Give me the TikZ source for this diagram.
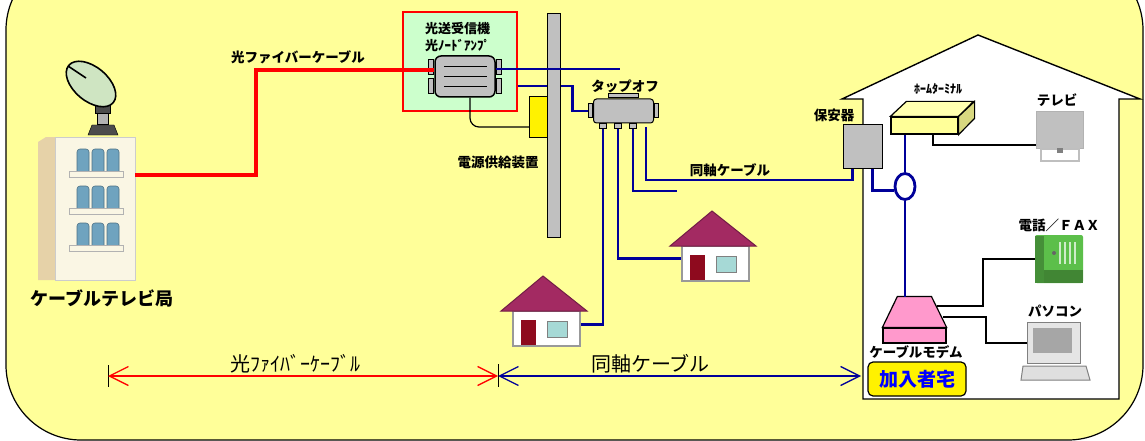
\documentclass[tikz,border=0pt]{standalone}
\usepackage{fontspec}
\setmainfont{Noto Sans CJK JP}
\usepackage{tikz}
\usetikzlibrary{arrows.meta,positioning,shapes.geometric}
\definecolor{catvbg}{HTML}{FFFF99}
\definecolor{navy}{HTML}{000099}
\definecolor{fiber}{HTML}{FF0000}
\definecolor{onugreen}{HTML}{CCFFCC}
\definecolor{devgray}{HTML}{C0C0C0}
\definecolor{roof}{HTML}{A32A62}
\definecolor{door}{HTML}{8E0A1E}
\definecolor{pane}{HTML}{A6D9D6}
\definecolor{modempink}{HTML}{FF99CC}
\definecolor{wallcream}{HTML}{FAF6E4}
\definecolor{wallside}{HTML}{E6D2A8}
\definecolor{glass}{HTML}{6FA3BF}
\definecolor{dishgreen}{HTML}{CFE5C2}
\definecolor{phonegreen}{HTML}{5CBF4A}
\definecolor{termtop}{HTML}{FFFFB0}
\definecolor{termside}{HTML}{D8D880}

\begin{document}
\begin{tikzpicture}[x=1pt,y=-1pt,
  lab/.style={font=\fontsize{13.5}{14}\selectfont\bfseries,inner sep=0pt},
  dimlab/.style={font=\fontsize{20}{20}\selectfont,inner sep=2pt,text=black},
  dev/.style={draw,fill=devgray,line width=1pt,inner sep=0pt},
  fiberline/.style={fiber,line width=4.5pt},
  coaxline/.style={navy,line width=2.8pt},
  wire/.style={black,line width=1.2pt},
  dimred/.style={{Straight Barb[length=19pt,width=19pt]}-{Straight Barb[length=19pt,width=19pt]},red,line width=1.3pt},
  dimblue/.style={{Straight Barb[length=19pt,width=19pt]}-{Straight Barb[length=19pt,width=19pt]},navy,line width=1.3pt}]
\useasboundingbox (0,0) rectangle (1145,441);
\clip (0,0) rectangle (1145,441);
\filldraw[fill=catvbg,line width=1.2pt,rounded corners=75pt] (6,-45) rectangle (1143,440);

% cable TV station
\fill[wallside] (38,280) -- (38,142) -- (46,137) -- (55,137) -- (55,280) -- cycle;
\node[fill=wallcream,draw=gray!40,minimum width=80,minimum height=143,inner sep=0pt,anchor=north west] (stn) at (55,137) {};
\foreach \wy in {149,186,223}{
  \foreach \wx in {77,92,107}
    \filldraw[fill=glass,draw=glass!70!black,line width=0.6pt,rounded corners=3pt] (\wx,\wy+22) -- (\wx,\wy) -- (\wx+12,\wy) -- (\wx+12,\wy+22);
  \filldraw[fill=wallcream,draw=gray!60,line width=0.8pt] (69,\wy+22) rectangle (123,\wy+28);
}
\filldraw[fill=black!70] (88,135) -- (92,125) -- (114,125) -- (118,135) -- cycle;
\filldraw[fill=gray!60,draw=black,line width=1pt] (97,113) rectangle (108,125);
\filldraw[fill=black!70] (95,104) rectangle (110,113);
\filldraw[fill=dishgreen,draw=black,line width=1.6pt,rotate around={-40:(91,84)}] (91,84) ellipse (29 and 17);
\draw[line width=1.6pt] (68,66) -- (86,78);
\node[font=\fontsize{18}{18}\selectfont\bfseries,inner sep=0pt] (stnlab) at (102,298) {ケーブルテレビ局};

% optical node
\node[draw=red,line width=1.2pt,fill=onugreen,minimum width=114,minimum height=99,inner sep=0pt] (onu) at (460,61.5) {};
\node[lab,align=left,anchor=west,font=\fontsize{13}{17}\selectfont\bfseries] (onulab) at (425,37) {光送受信機\\光ﾉｰﾄﾞｱﾝﾌﾟ};
\node[dev,line width=1.5pt,rounded corners=6pt,minimum width=60,minimum height=41] (amp) at (465,76.5) {};
\node[dev,minimum width=5,minimum height=15,anchor=north east] (ampl1) at ([yshift=-4pt]amp.north west) {};
\node[dev,minimum width=5,minimum height=15,anchor=south east] (ampl2) at ([yshift=4pt]amp.south west) {};
\node[dev,minimum width=5,minimum height=15,anchor=north west] (ampr1) at ([yshift=-4pt]amp.north east) {};
\node[dev,minimum width=5,minimum height=15,anchor=south west] (ampr2) at ([yshift=4pt]amp.south east) {};
\foreach \dy in {-10,0,10}
  \draw[line width=1.2pt] (amp.center) ++(-21,\dy) -- ++(43,0);

\coordinate (fbend) at (256,70);
\draw[fiberline] ([yshift=33.5pt]stn.east) -| (fbend) -- (fbend -| amp.west);
\node[lab] (fiblab) at (298,57) {光ファイバーケーブル};

% pole, power supply, tap-off
\node[dev,minimum width=60,minimum height=24,rounded corners=3pt] (tap) at (623.5,111) {};
\draw[coaxline] ([yshift=-24.5pt]onu.east) -- ++(55,0) |- (tap.west);
\node[dev,minimum width=13,minimum height=224,anchor=north west] (pole) at (547,13) {};
\node[draw,line width=1pt,fill=yellow,minimum width=18,minimum height=41,inner sep=0pt,anchor=north west] (psu) at (529,96) {};
\draw[wire,rounded corners=9pt] ([xshift=5pt]amp.south) |- ([yshift=-10pt]psu.west);
\node[lab] (psulab) at (498,162) {電源供給装置};
\coordinate (ampout) at (620,69);
\draw[coaxline] (amp.east |- ampout) -- (ampout);

\node[dev,minimum width=4,minimum height=14,anchor=east] (tapl) at (tap.west) {};
\node[dev,minimum width=4,minimum height=14,anchor=west] (tapr) at (tap.east) {};
\node[dev,minimum width=30,minimum height=4,anchor=south] (taptop) at (tap.north) {};
\node[lab] (taplab) at (625,86) {タップオフ};

% small houses
\foreach \hn/\px/\py in {hsa/543/276,hsb/712/211}{
  \begin{scope}[shift={(\px,\py)}]
    \node[draw=gray!80,line width=1.5pt,fill=white,minimum width=67,minimum height=35,inner sep=0pt,anchor=north west] (\hn) at (-31,34) {};
    \filldraw[fill=roof,draw=roof!70!black,line width=1pt] (-42,35) -- (0,0) -- (44,35) -- cycle;
    \fill[door] (-22,44) rectangle (-7,69);
    \filldraw[fill=pane,draw=gray,line width=1pt] (4,45) rectangle (24,61);
  \end{scope}
}

\foreach \i/\px in {1/603,2/618,3/633}
  \node[dev,minimum width=7,minimum height=5,anchor=north] (p\i) at (\px,123) {};
\coordinate (tapout) at (646,127);
\coordinate (end3) at (677,191);
\draw[coaxline] (p1.south) |- ([yshift=4pt]hsa.east);
\draw[coaxline] (p2.south) |- ([yshift=5pt]hsb.west);
\draw[coaxline] (p3.south) |- (end3);

% subscriber's home
\filldraw[fill=white,line width=1.4pt] (863,399) -- (863,99) -- (842,99) -- (978,35) -- (1140,99) -- (1119,99) -- (1119,399) -- cycle;
\node[dev,minimum width=39,minimum height=43] (prot) at (862.5,146.5) {};
\node[lab] (protlab) at (834,115) {保安器};
\draw[coaxline] (tapout) -- ++(0,53) -| ([xshift=10pt]prot.south west);
\node[lab] (coaxlab) at (730,170) {同軸ケーブル};

\node[draw,line width=1.2pt,fill=catvbg,minimum width=67,minimum height=17,inner sep=0pt] (hterm) at (924.5,125.5) {};
\filldraw[fill=termtop,line width=1.2pt] (hterm.north west) -- ++(16,-15) -- ++(67,0) -- (hterm.north east) -- cycle;
\filldraw[fill=termside,line width=1.2pt] (hterm.north east) -- ++(16,-15) -- ++(0,17) -- (hterm.south east) -- cycle;
\node[lab,font=\fontsize{12}{12}\selectfont\bfseries] (htermlab) at (938,89) {ﾎｰﾑﾀｰﾐﾅﾙ};

\node[ellipse,draw=navy,line width=2.8pt,fill=white,minimum width=20,minimum height=26,inner sep=0pt] (split) at (905,186.5) {};
\draw[coaxline] (split.north) -- (split.north |- hterm.south);
\draw[coaxline] ([xshift=10pt]prot.south) |- ([yshift=-4pt]split.west);

% cable modem
\node[draw,line width=1.2pt,fill=modempink,minimum width=63,minimum height=15,inner sep=0pt] (modem) at (914.5,335.5) {};
\filldraw[fill=modempink,line width=1.2pt] (modem.north west) -- ++(15,-31) -- ++(34,0) -- (modem.north east) -- cycle;
\coordinate (mtop) at (905,297);
\draw[coaxline] (split.south) -- (mtop);
\node[lab] (modemlab) at (916,352) {ケーブルモデム};
\node[draw,line width=1.2pt,fill=yellow,rounded corners=5pt,minimum width=98,minimum height=34,inner sep=0pt,text=blue,font=\fontsize{19}{19}\selectfont\bfseries] (homelab) at (917,379) {加入者宅};

% TV
\node[fill=devgray,draw=gray!60,line width=1pt,minimum width=47,minimum height=36,inner sep=0pt] (tv) at (1060,130) {};
\filldraw[fill=white,draw=gray!50,line width=1.5pt] (1041,149) rectangle (1079,161);
\fill[gray] (1057,148) rectangle (1063,153);
\node[lab] (tvlab) at (1057,100) {テレビ};
\draw[wire] ([xshift=8.5pt]hterm.south) |- ([yshift=-15pt]tv.west);

% telephone / FAX
\node[fill=phonegreen,rounded corners=2pt,minimum width=48,minimum height=48,inner sep=0pt] (phone) at (1059,259) {};
\fill[phonegreen!75!black] (1035,236) rectangle (1044,283);
\fill[phonegreen!70!black] (1044,270) rectangle (1083,283);
\foreach \kx in {1060,1065,1070,1075}
  \draw[white!70!phonegreen,line width=1.5pt] (\kx,242) -- (\kx,264);
\fill[black!60] (1054,253) circle (2);
\node[lab] (phonelab) at (1059,225) {電話／ＦＡＸ};

% PC
\node[fill=gray!20,draw=gray,line width=1pt,minimum width=53,minimum height=41,inner sep=0pt] (pc) at (1054,343) {};
\fill[gray!70] (1033,328) rectangle (1072,353);
\filldraw[fill=gray!25,draw=gray,line width=1pt] (1023,366) -- (1086,366) -- (1090,380) -- (1021,380) -- cycle;
\node[lab] (pclab) at (1055,311) {パソコン};

\coordinate (mtel) at (937,306);
\coordinate (mpc) at (943,317);
\draw[wire] (mtel) -- (983,306) |- (phone.west);
\draw[wire] (mpc) -- (986,317) |- (pc.west);

% lengths of each section
\coordinate (fs) at (108,376);
\coordinate (fe) at (498,376);
\coordinate (ce) at (861,376);
\draw[line width=1pt] ([yshift=11pt]fs) -- ([yshift=-11pt]fs);
\draw[line width=1pt] ([yshift=12pt]fe) -- ([yshift=-11pt]fe);
\draw[dimred] (fs) -- node[dimlab,above,pos=0.48] (fdlab) {光ﾌｧｲﾊﾞｰｹｰﾌﾞﾙ} (fe);
\draw[dimblue] (fe) -- node[dimlab,above,pos=0.42] (cdlab) {同軸ケーブル} (ce);
\end{tikzpicture}
\end{document}
